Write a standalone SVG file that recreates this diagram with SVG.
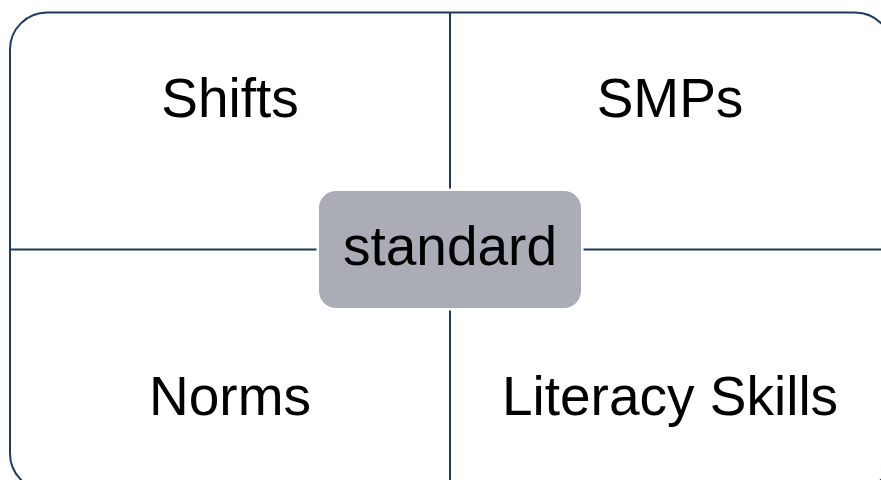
<svg xmlns="http://www.w3.org/2000/svg" width="881" height="480" viewBox="0 0 881 480">
<style>
.ln{stroke:#1f3a5f;stroke-width:2;fill:none}
.lbl{font-family:"Liberation Sans",Arial,sans-serif;font-size:55px;fill:#000;text-anchor:middle}
</style>
<rect width="881" height="480" fill="#fff"/>
<g id="frame"><rect class="ln" x="10" y="12.5" width="882" height="478" rx="37" ry="37"/></g>
<g id="connectors">
<line class="ln" x1="450" y1="12.5" x2="450" y2="480"/>
<line class="ln" x1="10" y1="249.5" x2="881" y2="249.5"/>
</g>
<g id="shifts"><text class="lbl" x="230" y="117">Shifts</text></g>
<g id="smps"><text class="lbl" x="670" y="117">SMPs</text></g>
<g id="norms"><text class="lbl" x="230" y="415">Norms</text></g>
<g id="literacy"><text class="lbl" x="670" y="415">Literacy Skills</text></g>
<g id="standard">
<rect x="316.5" y="188.5" width="267" height="122" rx="19" ry="19" fill="#fff"/>
<rect x="319" y="191" width="262" height="117" rx="17" ry="17" fill="#aaacb6"/>
<text class="lbl" x="450" y="265" font-size="54">standard</text>
</g>
</svg>
